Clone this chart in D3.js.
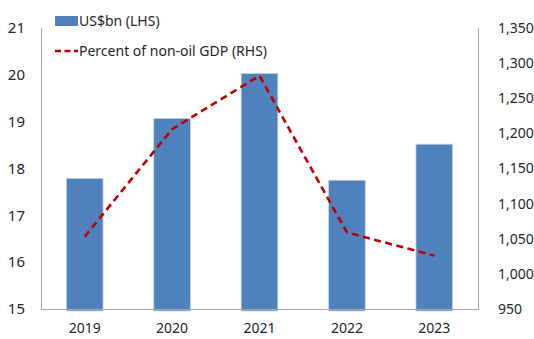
<!DOCTYPE html>
<html>
<head>
<meta charset="utf-8">
<script src="https://cdn.jsdelivr.net/npm/d3@7"></script>
<style>
  html, body { margin: 0; padding: 0; background: #fff; }
  svg { display: block; font-family: "Noto Sans", "Open Sans", sans-serif; }
</style>
</head>
<body>
<svg id="chart" width="534" height="339"></svg>
<script>
// Years on the x axis
const years = ["2019", "2020", "2021", "2022", "2023"];
// Bars: US$bn, left axis
const usdBn = [17.79, 19.07, 20.03, 17.75, 18.52];
// Dashed line: percent of non-oil GDP, right axis
const pctNonOil = [1053, 1206, 1282, 1059, 1026];
// Axis tick values
const leftTicks = [15, 16, 17, 18, 19, 20, 21];
const rightTicks = [950, 1000, 1050, 1100, 1150, 1200, 1250, 1300, 1350];

const svg = d3.select("#chart");
const plot = { left: 41, right: 478, top: 28, bottom: 309 };
const textColor = "#262626";
const axisColor = "#a6a6a6";

const x = d3.scaleBand().domain(years).range([plot.left, plot.right]).paddingInner(0.58).paddingOuter(0.29);
const yL = d3.scaleLinear().domain([15, 21]).range([plot.bottom, plot.top]);
const yR = d3.scaleLinear().domain([950, 1350]).range([plot.bottom, plot.top]);

// Bars
svg.append("g").selectAll("rect")
  .data(years.map((yr, i) => ({ yr, v: usdBn[i] })))
  .join("rect")
  .attr("x", d => x(d.yr))
  .attr("y", d => yL(d.v))
  .attr("width", x.bandwidth())
  .attr("height", d => yL(15) - yL(d.v) + 2)
  .attr("fill", "#4f81bd")
  .attr("stroke", "#c6d7ea")
  .attr("stroke-width", 0.8);

// Axis frame lines
const frame = svg.append("g").attr("stroke", axisColor).attr("stroke-width", 1).attr("shape-rendering", "crispEdges");
frame.append("line").attr("x1", plot.left + 0.5).attr("x2", plot.left + 0.5).attr("y1", plot.top).attr("y2", plot.bottom);
frame.append("line").attr("x1", plot.right + 0.5).attr("x2", plot.right + 0.5).attr("y1", plot.top).attr("y2", plot.bottom);
frame.append("line").attr("x1", plot.left).attr("x2", plot.right + 1).attr("y1", plot.bottom + 0.5).attr("y2", plot.bottom + 0.5);

// Left axis labels
const leftAxis = d3.axisLeft(yL).tickValues(leftTicks).tickSize(0).tickPadding(16).tickFormat(d3.format("d"));
const gl = svg.append("g").attr("transform", `translate(${plot.left},0)`).call(leftAxis);
gl.select(".domain").remove();
gl.selectAll("text").attr("fill", textColor).style("font-size", "15px").style("font-family", "Noto Sans, sans-serif");

// Right axis labels
const rightAxis = d3.axisRight(yR).tickValues(rightTicks).tickSize(0).tickPadding(20).tickFormat(d3.format(","));
const gr = svg.append("g").attr("transform", `translate(${plot.right},0)`).call(rightAxis);
gr.select(".domain").remove();
gr.selectAll("text").attr("fill", textColor).style("font-size", "14px").style("font-family", "Noto Sans, sans-serif");

// Bottom axis labels
const bottomAxis = d3.axisBottom(x).tickSize(0).tickPadding(14);
const gb = svg.append("g").attr("transform", `translate(0,${plot.bottom})`).call(bottomAxis);
gb.select(".domain").remove();
gb.selectAll("text").attr("fill", textColor).style("font-size", "14px").style("font-family", "Noto Sans, sans-serif");

// Dashed line
const line = d3.line()
  .x((d, i) => x(years[i]) + x.bandwidth() / 2)
  .y(d => yR(d));
svg.append("path")
  .datum(pctNonOil)
  .attr("d", line)
  .attr("fill", "none")
  .attr("stroke", "#c00000")
  .attr("stroke-width", 2.6)
  .attr("stroke-dasharray", "7,4.5");

// Legend
const legend = svg.append("g");
legend.append("rect").attr("x", 55).attr("y", 16).attr("width", 23).attr("height", 10).attr("fill", "#4f81bd");
legend.append("text").attr("x", 79).attr("y", 26).text("US$bn (LHS)")
  .attr("fill", textColor).style("font-size", "14px");
legend.append("line").attr("x1", 55).attr("x2", 78).attr("y1", 51).attr("y2", 51)
  .attr("stroke", "#c00000").attr("stroke-width", 2.6).attr("stroke-dasharray", "6,3.5");
legend.append("text").attr("x", 79).attr("y", 56).text("Percent of non-oil GDP (RHS)")
  .attr("fill", textColor).style("font-size", "14px");
</script>
</body>
</html>
